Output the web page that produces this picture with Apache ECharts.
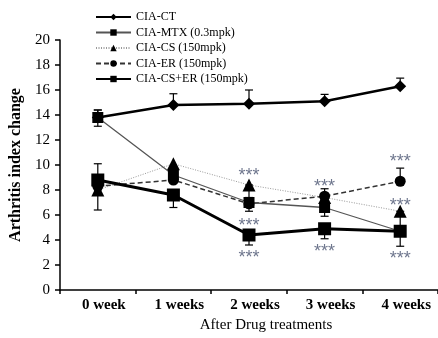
<!DOCTYPE html>
<html><head><meta charset="utf-8">
<script src="https://cdn.jsdelivr.net/npm/echarts@6/dist/echarts.min.js"></script>
<style>html,body{margin:0;padding:0;background:#fff}#c{width:438px;height:338px}</style>
</head><body><div id="c"></div>
<script>
var categories = ['0 week', '1 weeks', '2 weeks', '3 weeks', '4 weeks'];
var yTicks = [0, 20, 2];
var seriesNames = ['CIA-CT', 'CIA-MTX (0.3mpk)', 'CIA-CS (150mpk)', 'CIA-ER (150mpk)', 'CIA-CS+ER (150mpk)'];
var ctVals   = [13.8, 14.8, 14.9, 15.1, 16.3];
var mtxVals  = [13.8, 9.2, 7.0, 6.6, 4.7];
var csVals   = [8.0, 10.1, 8.4, 7.4, 6.3];
var erVals   = [8.3, 8.8, 6.9, 7.5, 8.7];
var cserVals = [8.8, 7.6, 4.4, 4.9, 4.7];
var ctUp   = [0.6, 0.9, 1.1, 0.55, 0.65];
var ctDown = [0, 0, 0, 0, 0];
var mtxUp   = [0.6, 0, 0, 0, 0];
var mtxDown = [0.7, 0, 0.7, 0.7, 0];
var csUp   = [0, 0, 0, 0, 0];
var csDown = [0, 0, 1.0, 0, 1.4];
var erUp   = [1.8, 0, 0, 0.6, 1.05];
var erDown = [1.9, 0, 0, 0, 0];
var cserUp   = [0, 0, 0, 0, 0];
var cserDown = [0, 1.0, 0.8, 0.8, 1.2];
var starCats = ['2 weeks', '2 weeks', '2 weeks', '3 weeks', '3 weeks', '4 weeks', '4 weeks', '4 weeks'];
var starVals = [9.5, 5.55, 2.95, 8.65, 3.4, 10.6, 7.15, 2.85];
var starText = '***';

var serif = '"Liberation Serif", "Times New Roman", serif';
var chart = echarts.init(document.getElementById('c'), null, {renderer: 'canvas'});

function errData(vals, up, down) {
  return vals.map(function (v, i) { return [i, v - down[i], v + up[i]]; });
}
var errSets = [
  errData(ctVals, ctUp, ctDown),
  errData(mtxVals, mtxUp, mtxDown),
  errData(csVals, csUp, csDown),
  errData(erVals, erUp, erDown),
  errData(cserVals, cserUp, cserDown)
];
var allErr = [].concat.apply([], errSets);

function renderErr(params, api) {
  var x = api.value(0), lo = api.value(1), hi = api.value(2);
  var pLo = api.coord([x, lo]), pHi = api.coord([x, hi]);
  var hw = 4;
  var style = {stroke: '#000', lineWidth: 1.2, fill: null};
  var children = [];
  if (hi - lo <= 0) return {type: 'group', children: []};
  children.push({type: 'line', shape: {x1: pLo[0], y1: pLo[1], x2: pHi[0], y2: pHi[1]}, style: style});
  children.push({type: 'line', shape: {x1: pHi[0] - hw, y1: pHi[1], x2: pHi[0] + hw, y2: pHi[1]}, style: style});
  children.push({type: 'line', shape: {x1: pLo[0] - hw, y1: pLo[1], x2: pLo[0] + hw, y2: pLo[1]}, style: style});
  return {type: 'group', children: children};
}

var option = {
  backgroundColor: '#fff',
  animation: false,
  textStyle: {fontFamily: serif, color: '#000'},
  grid: {left: 60, right: -2, top: 40, bottom: 46, containLabel: false},
  legend: {
    data: seriesNames,
    orient: 'vertical',
    left: 90, top: 6,
    itemWidth: 35, itemHeight: 8, itemGap: 3.5,
    textStyle: {fontFamily: serif, fontSize: 12, color: '#000'},
    inactiveColor: '#ccc'
  },
  xAxis: {
    type: 'category',
    data: categories,
    boundaryGap: true,
    axisLine: {lineStyle: {color: '#000', width: 1.5}},
    axisTick: {show: true, length: 4, lineStyle: {color: '#000', width: 1.5}},
    axisLabel: {fontFamily: serif, fontWeight: 'bold', fontSize: 15, color: '#000', margin: 8, padding: [0, 0, 0, 12]},
    name: 'After Drug treatments',
    nameLocation: 'middle',
    nameGap: 28,
    nameTextStyle: {fontFamily: serif, fontSize: 15, color: '#000', padding: [0, 0, 0, 34]}
  },
  yAxis: {
    type: 'value',
    min: yTicks[0], max: yTicks[1], interval: yTicks[2],
    splitLine: {show: false},
    axisLine: {show: true, lineStyle: {color: '#000', width: 1.5}},
    axisTick: {show: true, length: 5, lineStyle: {color: '#000', width: 1.5}},
    axisLabel: {fontFamily: serif, fontSize: 15, color: '#000', margin: 10},
    name: 'Arthritis index change',
    nameLocation: 'middle',
    nameGap: 36,
    nameTextStyle: {fontFamily: serif, fontSize: 16, fontWeight: 'bold', color: '#000'}
  },
  series: [
    {type: 'custom', name: 'err', renderItem: renderErr, data: allErr, z: 1, silent: true,
     encode: {x: 0, y: [1, 2]}},
    {name: seriesNames[0], type: 'line', data: ctVals, symbol: 'diamond', symbolSize: 12, z: 5,
     lineStyle: {color: '#000', width: 2.5}, itemStyle: {color: '#000'}},
    {name: seriesNames[1], type: 'line', data: mtxVals, symbol: 'rect', symbolSize: 11, z: 4,
     lineStyle: {color: '#555', width: 1.3}, itemStyle: {color: '#000'}},
    {name: seriesNames[2], type: 'line', data: csVals, symbol: 'triangle', symbolSize: 13, z: 3,
     lineStyle: {color: '#999', width: 1, type: [1, 1.5]}, itemStyle: {color: '#000'}},
    {name: seriesNames[3], type: 'line', data: erVals, symbol: 'circle', symbolSize: 11, z: 3,
     lineStyle: {color: '#333', width: 1.5, type: [5, 3]}, itemStyle: {color: '#000'}},
    {name: seriesNames[4], type: 'line', data: cserVals, symbol: 'rect', symbolSize: 13, z: 4,
     lineStyle: {color: '#000', width: 3}, itemStyle: {color: '#000'}},
    {type: 'scatter', name: 'sig', data: starCats.map(function (c, i) { return [c, starVals[i]]; }),
     symbolSize: 0, silent: true, z: 6,
     label: {show: true, position: 'inside', formatter: starText, offset: [0, 5],
             fontFamily: '"Liberation Sans", Arial, sans-serif', fontSize: 18, color: '#4a5470'}}
  ]
};
chart.setOption(option);
</script></body></html>
